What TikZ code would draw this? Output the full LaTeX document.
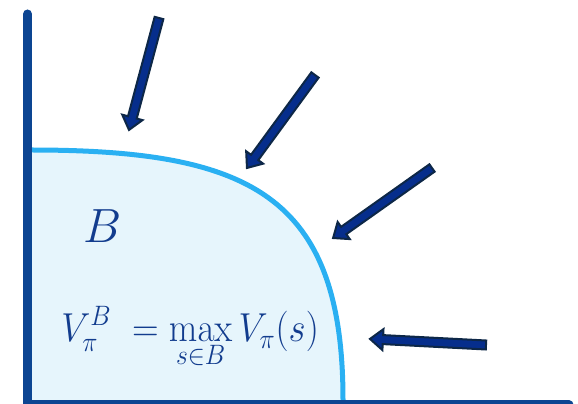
\documentclass[tikz,border=0pt]{standalone}
\usetikzlibrary{calc}
\definecolor{axisblue}{HTML}{0C4592}
\definecolor{regionfill}{HTML}{E6F5FC}
\definecolor{regionline}{HTML}{2AB0F2}
\definecolor{arrowfill}{HTML}{062E8C}
\definecolor{arrowline}{HTML}{0D2747}
\definecolor{textblue}{HTML}{123C8E}
\tikzset{
  axisline/.style={draw=axisblue, line width=9pt, line cap=round},
  regionstyle/.style={fill=regionfill},
  boundary/.style={draw=regionline, line width=5pt},
  arrowsty/.style={fill=arrowfill, draw=arrowline, line width=2pt, line join=miter},
  pics/blockarr/.style={code={
    \path[arrowsty] (0,-4.5) -- (#1-13,-4.5) -- (#1-13,-10.5) -- (#1,0) -- (#1-13,10.5) -- (#1-13,4.5) -- (0,4.5) -- cycle;
  }},
  labeltext/.style={text=textblue, inner sep=0pt}
}
\begin{document}
\begin{tikzpicture}[x=1pt,y=1pt]
\useasboundingbox (0,0) rectangle (578,404);
\begin{scope}
\clip (0,0) rectangle (578,404);
% region
\coordinate (c0) at (31,4);
\coordinate (ctop) at (31,254);
\coordinate (cbot) at (343,4);
\path[regionstyle] (c0) -- (ctop) .. controls (249.4,254) and (343,209) .. (cbot) -- cycle;
\draw[boundary] (ctop) .. controls (249.4,254) and (343,209) .. (cbot);
% axes
\coordinate (ytop) at (27.5,390);
\coordinate (origin) at (27.5,-1);
\coordinate (xend) at (569,-1);
\draw[axisline] (ytop) -- (origin) -- (xend);
% arrows
\pic[rotate=-105.0] (a1) at (159,386) {blockarr=115.9};
\pic[rotate=233.8] (a2) at (315,329) {blockarr=115.2};
\pic[rotate=215.3] (a3) at (432,236) {blockarr=121.2};
\pic[rotate=177.0] (a4) at (486,59) {blockarr=116.2};
% labels
\node[labeltext, font=\Huge, scale=1.93] (setB) at (103,178) {$B$};
\node[labeltext, anchor=base west, font=\huge, xscale=1.78, yscale=1.95] (formula) at (61,62) {$\displaystyle V_\pi^B\; = \max_{s\in B} V_\pi(s)$};
\end{scope}
\end{tikzpicture}
\end{document}
